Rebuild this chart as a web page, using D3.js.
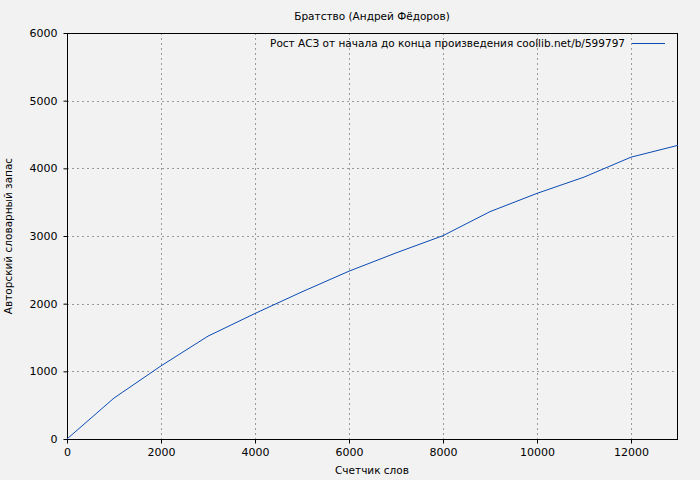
<!DOCTYPE html>
<html><head><meta charset="utf-8">
<script src="https://cdn.jsdelivr.net/npm/d3@7"></script>
<style>
body{margin:0;background:#f2f2f2;}
svg{display:block;font-family:"DejaVu Sans",sans-serif;}
</style></head>
<body><svg id="c" width="700" height="480"></svg>
<script>
const words = [0,1000,2000,3000,4000,5000,6000,7000,8000,9000,10000,11000,12000,13000];
const vocab = [0,605,1080,1520,1855,2175,2480,2750,3005,3360,3630,3870,4165,4340];
const xTicks = [0,2000,4000,6000,8000,10000,12000];
const yTicks = [0,1000,2000,3000,4000,5000,6000];
const title = "Братство (Андрей Фёдоров)";
const xLabel = "Счетчик слов";
const yLabel = "Авторский словарный запас";
const legendLabel = "Рост АСЗ от начала до конца произведения coollib.net/b/599797";

const svg = d3.select("#c");
const L=67,R=678,T=33,B=439;
const x = d3.scaleLinear().domain([0,13000]).range([L,R]);
const y = d3.scaleLinear().domain([0,6000]).range([B,T]);
svg.append("rect").attr("width",700).attr("height",480).attr("fill","#f2f2f2");

const grid = svg.append("g").attr("stroke","#999").attr("stroke-dasharray","2,3").attr("stroke-width",1);
xTicks.filter(d=>d>0).forEach(d=>grid.append("line").attr("x1",Math.round(x(d))+0.5).attr("x2",Math.round(x(d))+0.5).attr("y1",T).attr("y2",B));
yTicks.filter(d=>d>0&&d<6000).forEach(d=>grid.append("line").attr("x1",L).attr("x2",R).attr("y1",Math.round(y(d))+0.5).attr("y2",Math.round(y(d))+0.5));

const xa = svg.append("g").attr("transform",`translate(0,${B+0.5})`)
  .call(d3.axisBottom(x).tickValues(xTicks).tickSize(4).tickSizeOuter(0).tickPadding(5).tickFormat(d3.format("d")));
const ya = svg.append("g").attr("transform",`translate(${L+0.5},0)`)
  .call(d3.axisLeft(y).tickValues(yTicks).tickSize(4).tickSizeOuter(0).tickPadding(6).tickFormat(d3.format("d")));
[xa,ya].forEach(a=>{a.selectAll("text").attr("font-size",11).attr("font-family","DejaVu Sans").attr("fill","#000");a.select(".domain").remove();});

svg.append("rect").attr("x",L+0.5).attr("y",T+0.5).attr("width",R-L-1).attr("height",B-T).attr("fill","none").attr("stroke","#000").attr("stroke-width",1);

svg.append("path").datum(words.map((w,i)=>[w,vocab[i]]))
  .attr("fill","none").attr("stroke","#0a4bb5").attr("stroke-width",1)
  .attr("d",d3.line().x(d=>x(d[0])).y(d=>y(d[1])));

svg.append("text").attr("x",372).attr("y",20).attr("text-anchor","middle").attr("font-size",10.5).text(title);
svg.append("text").attr("x",372).attr("y",474).attr("text-anchor","middle").attr("font-size",10.5).text(xLabel);
svg.append("text").attr("transform","translate(12,236) rotate(-90)").attr("text-anchor","middle").attr("font-size",10.5).text(yLabel);
svg.append("text").attr("x",625).attr("y",47).attr("text-anchor","end").attr("font-size",10.5).text(legendLabel);
svg.append("line").attr("x1",632).attr("x2",665).attr("y1",43.5).attr("y2",43.5).attr("stroke","#0a4bb5").attr("stroke-width",1);
</script></body></html>
